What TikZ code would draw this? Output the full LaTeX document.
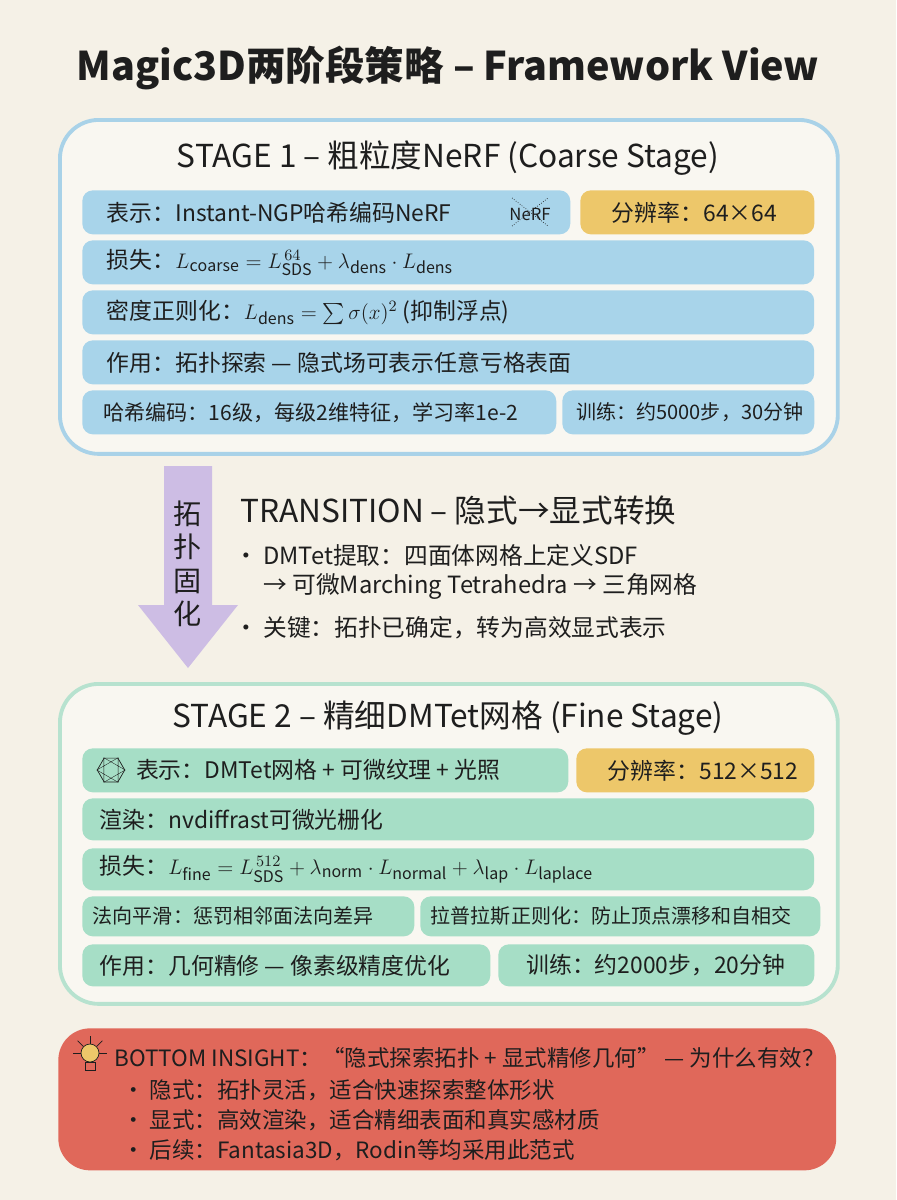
\documentclass[tikz,border=0pt]{standalone}
\usepackage{fontspec}
\usepackage{amsmath}
\setmainfont{Noto Sans CJK SC}
\usetikzlibrary{positioning,shapes.geometric}
\definecolor{bgc}{HTML}{F5F1E7}
\definecolor{blueframe}{HTML}{A9D2E8}
\definecolor{bluerow}{HTML}{A8D4EA}
\definecolor{greenframe}{HTML}{B7E2CF}
\definecolor{greenrow}{HTML}{A6DEC6}
\definecolor{yellowrow}{HTML}{EDC76A}
\definecolor{lavender}{HTML}{CDBDE4}
\definecolor{redbox}{HTML}{E0685A}
\definecolor{inkc}{HTML}{1E1E1E}
\tikzset{
  frame/.style={draw, line width=2.2pt, rounded corners=22pt, fill=bgc!60!white, anchor=north west, inner sep=0pt},
  rowbox/.style={rounded corners=6pt, anchor=north west, inner sep=0pt},
  rowtext/.style={anchor=west, text=inkc, font=\fontsize{13}{15.5}\selectfont, inner sep=0pt},
  smalltext/.style={rowtext, font=\fontsize{12}{14.5}\selectfont},
  tinytext/.style={rowtext, font=\fontsize{11.4}{14}\selectfont},
  heading/.style={text=inkc, font=\fontsize{18}{21}\selectfont},
  bottomtext/.style={rowtext, font=\fontsize{12.8}{15.5}\selectfont},
}
\begin{document}
\begin{tikzpicture}[x=0.02cm,y=-0.02cm]
\fill[bgc] (0,0) rectangle (896,1200);
\useasboundingbox (0,0) rectangle (896,1200);
% title
\node[text=inkc, font=\fontsize{22.5}{26}\bfseries\selectfont] (title) at (448,68) {Magic3D两阶段策略 – Framework View};

% stage 1
\node[frame, draw=blueframe, minimum width=15.56cm, minimum height=6.68cm] (s1) at (58,118) {};
\node[heading] (s1head) at (448,158) {STAGE 1 – 粗粒度NeRF (Coarse Stage)};
\node[rowbox, fill=bluerow, minimum width=9.76cm, minimum height=0.88cm] (a1) at (82,190) {};
\node[rowbox, fill=yellowrow, minimum width=4.68cm, minimum height=0.88cm] (a1y) at (580,190) {};
\node[rowtext, right=14pt of a1.west] (a1t) {表示：Instant-NGP哈希编码NeRF};
\node[font=\fontsize{9.5}{11}\selectfont, text=inkc] (nerf) at (530,214) {NeRF};
\draw[inkc, densely dotted, thin] (512,198) -- (548,226) (512,226) -- (548,198);
\node[rowtext, right=18pt of a1y.west] (a1yt) {分辨率：64×64};
\node[rowbox, fill=bluerow, minimum width=14.64cm, minimum height=0.88cm] (a2) at (82,240) {};
\node[rowtext, right=14pt of a2.west] (a2t) {损失：$L_{\mathrm{coarse}} = L_{\mathrm{SDS}}^{\,64} + \lambda_{\mathrm{dens}}\cdot L_{\mathrm{dens}}$};
\node[rowbox, fill=bluerow, minimum width=14.64cm, minimum height=0.88cm] (a3) at (82,290) {};
\node[rowtext, right=14pt of a3.west] (a3t) {密度正则化：$L_{\mathrm{dens}} = \sum \sigma(x)^2$ (抑制浮点)};
\node[rowbox, fill=bluerow, minimum width=14.64cm, minimum height=0.88cm] (a4) at (82,340) {};
\node[rowtext, right=14pt of a4.west] (a4t) {作用：拓扑探索 — 隐式场可表示任意亏格表面};
\node[rowbox, fill=bluerow, minimum width=9.48cm, minimum height=0.88cm] (a5) at (82,390) {};
\node[smalltext, right=12pt of a5.west] (a5t) {哈希编码：16级，每级2维特征，学习率1e-2};
\node[rowbox, fill=bluerow, minimum width=5.04cm, minimum height=0.88cm] (a5r) at (562,390) {};
\node[tinytext, right=8pt of a5r.west] (a5rt) {训练：约5000步，30分钟};

% transition
\fill[lavender] (164,466) -- (212,466) -- (212,605) -- (238,605) -- (188,668) -- (138,605) -- (164,605) -- cycle;
\node[text=inkc, font=\fontsize{16}{19}\selectfont, align=center] (vert) at (188,564) {拓\\扑\\固\\化};
\node[heading, anchor=west] (trhead) at (234,510) {TRANSITION – 隐式→显式转换};
\node[rowtext, anchor=west, align=left, font=\fontsize{13.5}{16.5}\selectfont] (b1) at (234,572) {• DMTet提取：四面体网格上定义SDF\\\phantom{• }→ 可微Marching Tetrahedra → 三角网格};
\node[rowtext, anchor=west, font=\fontsize{13.5}{16.5}\selectfont] (b2) at (234,628) {• 关键：拓扑已确定，转为高效显式表示};

% stage 2
\node[frame, draw=greenframe, minimum width=15.56cm, minimum height=6.4cm] (s2) at (58,682) {};
\node[heading] (s2head) at (448,718) {STAGE 2 – 精细DMTet网格 (Fine Stage)};
\node[rowbox, fill=greenrow, minimum width=9.72cm, minimum height=0.88cm] (c1) at (82,748) {};
\node[regular polygon, regular polygon sides=6, draw=inkc, thin, minimum size=0.55cm, inner sep=0pt] (ico) at (111,770) {};
\draw[inkc, very thin] (ico.corner 1) -- (ico.corner 3) -- (ico.corner 5) -- cycle (ico.corner 2) -- (ico.corner 4) -- (ico.corner 6) -- cycle;
\node[rowtext, right=6pt of ico] (c1t) {表示：DMTet网格 + 可微纹理 + 光照};
\node[rowbox, fill=yellowrow, minimum width=4.76cm, minimum height=0.88cm] (c1y) at (576,748) {};
\node[rowtext, right=18pt of c1y.west] (c1yt) {分辨率：512×512};
\node[rowbox, fill=greenrow, minimum width=14.64cm, minimum height=0.84cm] (c2) at (82,798) {};
\node[rowtext, right=10pt of c2.west] (c2t) {渲染：nvdiffrast可微光栅化};
\node[rowbox, fill=greenrow, minimum width=14.64cm, minimum height=0.84cm] (c3) at (82,848) {};
\node[rowtext, right=10pt of c3.west] (c3t) {损失：$L_{\mathrm{fine}} = L_{\mathrm{SDS}}^{\,512} + \lambda_{\mathrm{norm}}\cdot L_{\mathrm{normal}} + \lambda_{\mathrm{lap}}\cdot L_{\mathrm{laplace}}$};
\node[rowbox, fill=greenrow, minimum width=6.64cm, minimum height=0.8cm] (c4) at (82,896) {};
\node[tinytext, right=6pt of c4.west] (c4t) {法向平滑：惩罚相邻面法向差异};
\node[rowbox, fill=greenrow, minimum width=8.0cm, minimum height=0.8cm] (c4r) at (420,896) {};
\node[tinytext, right=6pt of c4r.west] (c4rt) {拉普拉斯正则化：防止顶点漂移和自相交};
\node[rowbox, fill=greenrow, minimum width=8.16cm, minimum height=0.84cm] (c5) at (82,944) {};
\node[rowtext, right=10pt of c5.west] (c5t) {作用：几何精修 — 像素级精度优化};
\node[rowbox, fill=greenrow, minimum width=6.32cm, minimum height=0.84cm] (c5r) at (498,944) {};
\node[rowtext, right=16pt of c5r.west] (c5rt) {训练：约2000步，20分钟};

% bottom insight
\node[rowbox, fill=redbox, rounded corners=18pt, minimum width=15.56cm, minimum height=2.84cm] (ins) at (58,1028) {};
\node[circle, draw=inkc, fill=yellowrow, thin, minimum size=0.36cm, inner sep=0pt] (bulb) at (90,1053) {};
\draw[inkc, thin] (85,1062) rectangle (95,1070);
\foreach \a in {90,135,45,180,0} \draw[inkc, thin] (bulb.\a) -- ++({8*cos(\a)},{-8*sin(\a)});
\node[bottomtext] (ins1) at (114,1058) {BOTTOM INSIGHT：“隐式探索拓扑 + 显式精修几何” — 为什么有效？};
\node[bottomtext] (ins2) at (122,1090) {• 隐式：拓扑灵活，适合快速探索整体形状};
\node[bottomtext] (ins3) at (122,1120) {• 显式：高效渲染，适合精细表面和真实感材质};
\node[bottomtext] (ins4) at (122,1150) {• 后续：Fantasia3D，Rodin等均采用此范式};
\end{tikzpicture}
\end{document}
